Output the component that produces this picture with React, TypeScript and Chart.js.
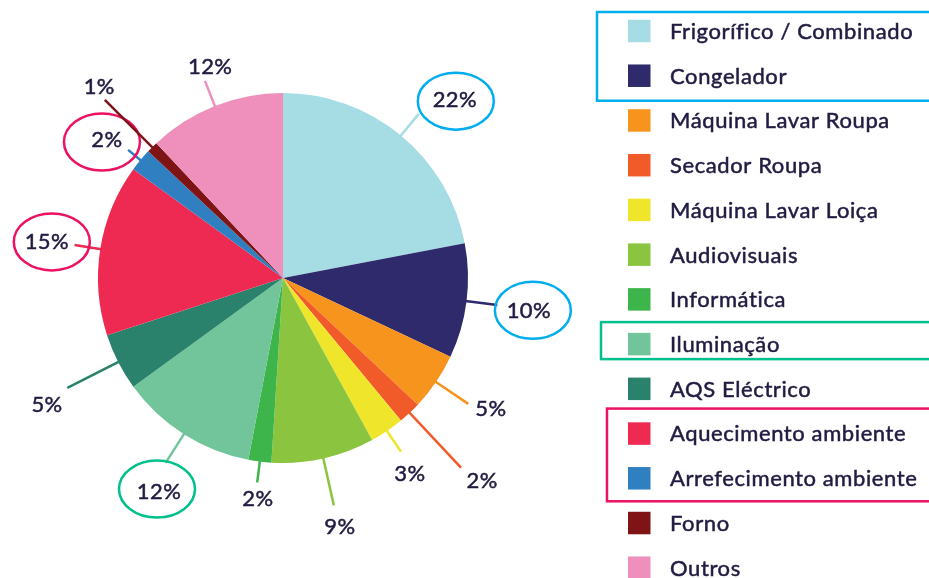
import React, { useEffect, useRef } from "react";
import { Chart, registerables } from "chart.js";

Chart.register(...registerables);

// ---- data ----
const categories = [
  "Frigorífico / Combinado",
  "Congelador",
  "Máquina Lavar Roupa",
  "Secador Roupa",
  "Máquina Lavar Loiça",
  "Audiovisuais",
  "Informática",
  "Iluminação",
  "AQS Eléctrico",
  "Aquecimento ambiente",
  "Arrefecimento ambiente",
  "Forno",
  "Outros",
];
const shares = [22, 10, 5, 2, 3, 9, 2, 12, 5, 15, 2, 1, 12];
const sliceColors = [
  "#a6dce4",
  "#2e2a6b",
  "#f7941d",
  "#f15a29",
  "#efe52b",
  "#8bc43f",
  "#3db54a",
  "#72c59a",
  "#2b826c",
  "#ee2a52",
  "#2f7fc1",
  "#7e1416",
  "#ee90bb",
];

// ---- label layout (leader line length beyond the rim, label distance, angular nudge in degrees) ----
const lineExt = [28, 31, 39, 75, 25, 48, 21, 34, 57, 26, 16, 67, 27];
const labelDist = [63, 63, 60.5, 98.6, 48, 70, 37, 61.5, 82.5, 54, 39, 81, 38.7];
const labelShift = [4.25, 0.3, -2.1, -1.4, 1.2, -0.3, -0.7, -2.2, -1.1, -0.2, -1.4, 1.3, 2.6];
const circled = [
  { index: 0, color: "#00aeef", dx: 1, dy: 2 },
  { index: 1, color: "#00aeef", dx: 4, dy: 0 },
  { index: 7, color: "#00c08b", dx: -2, dy: -2 },
  { index: 9, color: "#ec1163", dx: 5, dy: 0.5 },
  { index: 10, color: "#ec1163", dx: -5, dy: 2.5 },
];
const legendGroups = [
  { from: 0, to: 1, color: "#00aeef", left: 597, top: 19, bottom: 25 },
  { from: 7, to: 7, color: "#00c08b", left: 601, top: 22, bottom: 15 },
  { from: 9, to: 10, color: "#ec1163", left: 607, top: 25, bottom: 23 },
];

const TEXT = "#221b42";
const FONT = "Lato, 'DejaVu Sans', sans-serif";

function drawText(ctx: any, s: string, x: number, y: number) {
  ctx.fillText(s, x, y);
  ctx.strokeText(s, x, y);
}

const labelsPlugin = {
  id: "pctLabels",
  afterDatasetsDraw(chart: any) {
    const ctx = chart.ctx;
    const meta = chart.getDatasetMeta(0);
    const data = chart.data.datasets[0].data as number[];
    const total = data.reduce((a, b) => a + b, 0);
    const fs = 22;
    ctx.save();
    meta.data.forEach((arc: any, i: number) => {
      const { x, y, startAngle, endAngle, outerRadius } = arc.getProps(
        ["x", "y", "startAngle", "endAngle", "outerRadius"],
        true
      );
      const mid = (startAngle + endAngle) / 2;
      const r0 = outerRadius - 1;
      const r1 = outerRadius + lineExt[i];
      ctx.strokeStyle = sliceColors[i];
      ctx.lineWidth = 2.5;
      ctx.beginPath();
      ctx.moveTo(x + Math.cos(mid) * r0, y + Math.sin(mid) * r0);
      ctx.lineTo(x + Math.cos(mid) * r1, y + Math.sin(mid) * r1);
      ctx.stroke();
      const la = mid + (labelShift[i] * Math.PI) / 180;
      const lr = outerRadius + labelDist[i];
      const tx = x + Math.cos(la) * lr;
      const ty = y + Math.sin(la) * lr;
      ctx.fillStyle = TEXT;
      ctx.strokeStyle = TEXT;
      ctx.lineWidth = 0.5;
      ctx.font = `${fs}px ${FONT}`;
      (ctx as any).letterSpacing = "0.4px";
      ctx.textAlign = "center";
      ctx.textBaseline = "alphabetic";
      drawText(ctx, Math.round((data[i] / total) * 100) + "%", tx, ty + fs * 0.36);
      (ctx as any).letterSpacing = "0px";
      const c = circled.find((q) => q.index === i);
      if (c) {
        ctx.strokeStyle = c.color;
        ctx.lineWidth = 2.5;
        ctx.beginPath();
        ctx.ellipse(tx + c.dx, ty + c.dy, 38, 28.5, 0, 0, Math.PI * 2);
        ctx.stroke();
      }
    });
    ctx.restore();
  },
};

const legendPlugin = {
  id: "sideLegend",
  afterDraw(chart: any) {
    const ctx = chart.ctx;
    const labels = chart.data.labels as string[];
    const colors = chart.data.datasets[0].backgroundColor as string[];
    const firstY = 31;
    const step = 44.73;
    const boxX = 628;
    const box = 22.5;
    const textX = 670;
    const fs = 22;
    ctx.save();
    labels.forEach((lab, i) => {
      const cy = firstY + i * step;
      ctx.fillStyle = colors[i];
      ctx.fillRect(boxX, cy - box / 2, box, box);
      ctx.fillStyle = TEXT;
      ctx.strokeStyle = TEXT;
      ctx.lineWidth = 0.5;
      ctx.font = `${fs}px ${FONT}`;
      (ctx as any).letterSpacing = "0.6px";
      ctx.textAlign = "left";
      ctx.textBaseline = "alphabetic";
      drawText(ctx, lab, textX, cy + fs * 0.36);
      (ctx as any).letterSpacing = "0px";
    });
    legendGroups.forEach((g) => {
      const top = firstY + g.from * step - g.top;
      const bottom = firstY + g.to * step + g.bottom;
      ctx.strokeStyle = g.color;
      ctx.lineWidth = 2.5;
      ctx.strokeRect(g.left, top, 929 + 10 - g.left, bottom - top);
    });
    ctx.restore();
  },
};

export default function App() {
  const ref = useRef<HTMLCanvasElement | null>(null);
  useEffect(() => {
    if (!ref.current) return;
    const chart = new Chart(ref.current, {
      type: "pie",
      data: {
        labels: categories,
        datasets: [
          {
            data: shares,
            backgroundColor: sliceColors,
            borderWidth: 0,
          },
        ],
      },
      options: {
        responsive: false,
        animation: false,
        layout: { padding: { left: 98, right: 461, top: 93, bottom: 115 } },
        plugins: {
          legend: { display: false },
          tooltip: { enabled: false },
        },
      },
      plugins: [labelsPlugin, legendPlugin],
    });
    return () => chart.destroy();
  }, []);
  return (
    <div style={{ position: "absolute", left: 0, top: 0, width: 929, height: 578, overflow: "hidden", background: "#fff" }}>
      <canvas ref={ref} width={929} height={578} />
    </div>
  );
}
